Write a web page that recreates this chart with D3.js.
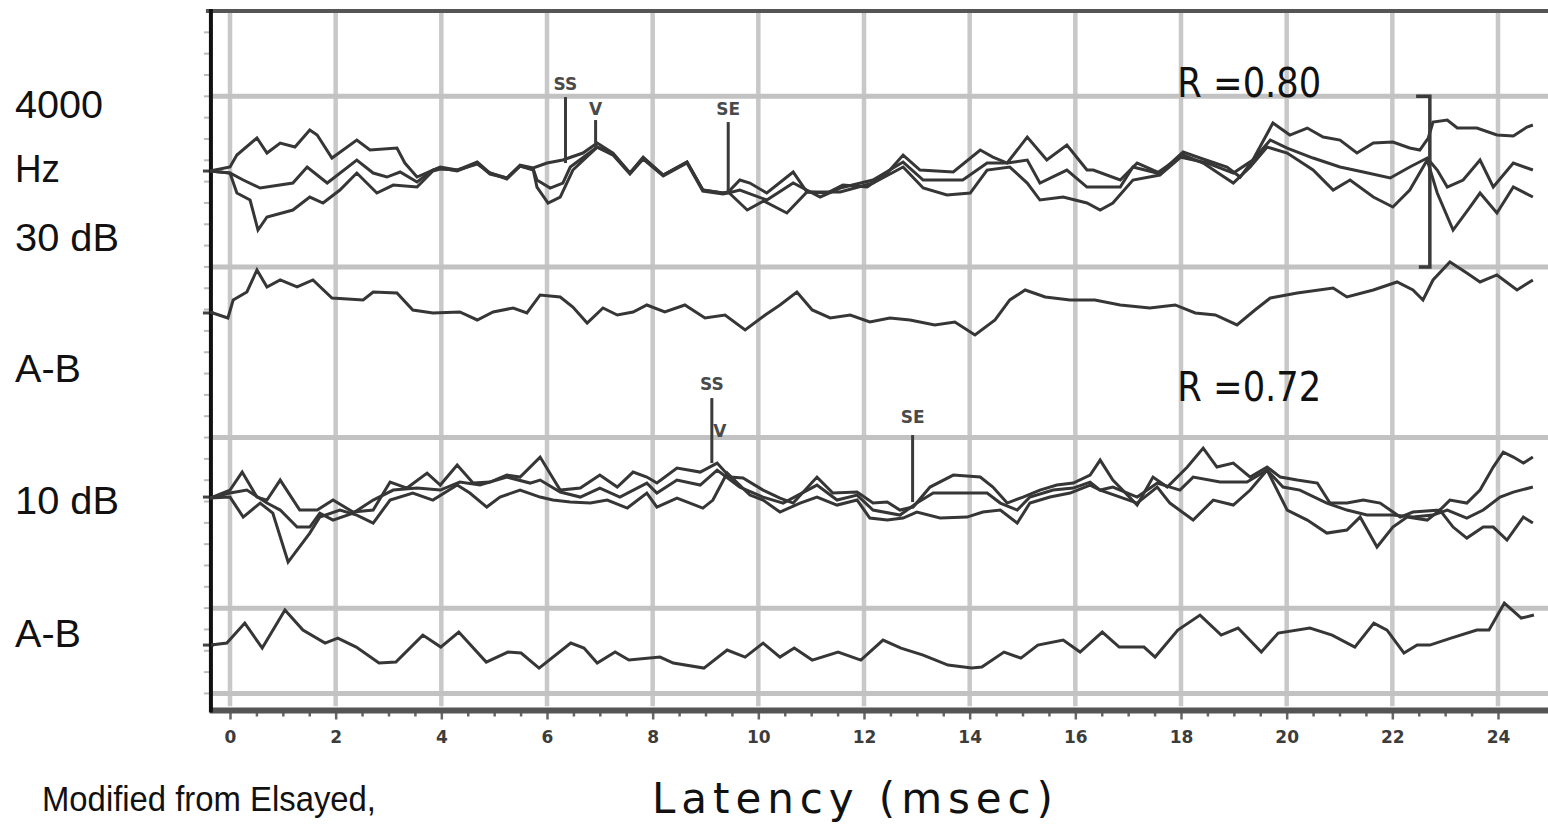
<!DOCTYPE html>
<html><head><meta charset="utf-8">
<script src="https://cdn.jsdelivr.net/npm/d3@7/dist/d3.min.js"></script>
<style>body{margin:0;background:#fff;overflow:hidden}svg{display:block}</style>
</head><body>
<svg id="chart" width="1548" height="830"></svg>
<script>
// ---------------- data ----------------
const xTickValues = [0,2,4,6,8,10,12,14,16,18,20,22,24];
const latencyMinorStep = 0.5;            // ms between minor ticks
const gridRows = [1,3,5,7,8];            // horizontal grid rows (divisions)
const ampGain = 0.1172;                  // divisions per amplitude unit

// channel baselines (divisions from top)
const base30 = 1.876, baseDiff30 = 3.540, base10 = 5.698, baseDiff10 = 7.433;

// [latency ms, amplitude units]
const wave30A = [[-0.38,0],[0,0.4],[0.13,1.6],[0.51,3.3],[0.70,1.8],[0.95,2.8],[1.23,2.4],[1.51,4.1],[1.65,3.6],[1.93,1.3],[2.40,3.1],[2.65,2.1],[3.16,2.3],[3.31,0.8],[3.54,-0.6],[3.84,0.1],[3.98,0.4],[4.30,0.1],[4.68,0.9],[4.92,-0.2],[5.24,-0.7],[5.49,0.6],[5.74,0.3],[6.00,0.8],[6.30,1.1],[6.68,1.8],[6.95,2.8],[7.25,1.8],[7.57,-0.2],[7.82,1.4],[8.20,-0.4],[8.65,0.9],[8.95,-1.9],[9.33,-2.2],[9.43,-2.1],[9.65,-0.9],[9.84,-1.2],[10.16,-2.2],[10.66,-0.1],[10.92,-2.1],[11.30,-2.2],[11.60,-1.4],[12.06,-1.6],[12.44,-0.2],[12.74,1.6],[13.06,0.1],[13.69,-0.1],[14.20,2.1],[14.44,1.4],[14.71,0.8],[15.09,3.4],[15.46,1.1],[15.84,2.6],[16.22,0.1],[16.34,0.1],[16.85,-0.9],[17.17,0.8],[17.60,-0.2],[18.04,1.9],[18.36,1.3],[18.87,0.4],[19.12,-0.6],[19.36,1.1],[19.74,4.8],[20.06,3.6],[20.39,4.3],[20.69,3.4],[21.01,3.1],[21.33,1.8],[21.64,2.8],[22.01,2.9],[22.33,2.3],[22.52,2.1],[22.68,3.3],[22.77,4.9],[23.04,5.1],[23.23,4.3],[23.60,4.3],[23.98,3.6],[24.29,3.5],[24.55,4.4],[24.66,4.6]];
const wave30B = [[-0.38,0],[0,-0.2],[0.25,-0.9],[0.57,-1.7],[1.19,-1.2],[1.46,0.4],[1.84,-1.2],[2.40,1.1],[2.71,-0.2],[2.97,-0.6],[3.22,-0.1],[3.54,-1.1],[3.84,0.1],[3.98,0.3],[4.30,0],[4.68,0.8],[4.92,-0.3],[5.24,-0.7],[5.49,0.5],[5.74,0.2],[5.81,-0.9],[6.06,-1.7],[6.30,-1.2],[6.44,0.4],[6.95,2.4],[7.25,1.6],[7.57,-0.3],[7.82,1.2],[8.20,-0.5],[8.65,0.8],[8.95,-2.0],[9.33,-2.3],[9.43,-2.2],[9.65,-1.9],[10.16,-2.9],[10.66,-1.2],[11.17,-2.6],[11.55,-1.7],[12.17,-0.9],[12.74,0.9],[13.12,-0.9],[13.87,-0.9],[14.33,0.8],[14.71,0.8],[15.09,1.1],[15.33,-1.2],[15.84,0.1],[16.22,-1.6],[16.47,-1.6],[16.85,-1.6],[17.09,0.4],[17.55,-0.2],[17.98,1.4],[18.50,0.8],[18.99,-0.2],[19.36,1.1],[19.69,3.1],[20.01,2.3],[20.50,1.3],[21.01,0.4],[21.45,-0.1],[21.96,-0.7],[22.33,0.4],[22.66,1.3],[22.85,0.1],[23.04,-1.6],[23.34,-0.9],[23.66,1.1],[23.91,-1.6],[24.29,0.8],[24.66,0.1]];
const wave30C = [[-0.38,0],[0,-0.2],[0.13,-2.2],[0.38,-2.9],[0.53,-5.9],[0.70,-4.6],[1.19,-3.9],[1.51,-2.6],[1.76,-3.2],[2.08,-1.9],[2.40,-0.2],[2.78,-2.2],[3.09,-1.4],[3.54,-1.6],[3.84,0],[3.98,0.2],[4.30,0.1],[4.68,0.7],[4.92,-0.2],[5.24,-0.8],[5.49,0.5],[5.74,0.1],[5.81,-1.6],[6.02,-3.2],[6.25,-2.6],[6.49,0.1],[6.95,2.4],[7.25,1.7],[7.57,-0.2],[7.82,1.3],[8.20,-0.4],[8.65,0.9],[8.95,-1.9],[9.33,-2.2],[9.43,-2.1],[9.79,-3.9],[10.10,-3.0],[10.54,-4.2],[10.92,-2.1],[11.55,-2.1],[12.17,-1.2],[12.74,0.4],[13.12,-1.7],[13.57,-2.4],[14.01,-2.2],[14.33,0.1],[14.76,0.4],[15.09,-1.2],[15.33,-2.9],[15.77,-2.6],[16.22,-3.2],[16.47,-3.9],[16.71,-3.2],[17.09,-0.9],[17.60,-0.4],[18.04,1.6],[18.42,0.8],[18.99,-1.2],[19.31,0.4],[19.63,2.4],[20.01,1.8],[20.50,0.1],[20.88,-1.9],[21.20,-0.9],[21.64,-2.6],[22.01,-3.6],[22.33,-1.9],[22.66,1.1],[22.85,-2.2],[23.15,-5.9],[23.47,-3.6],[23.66,-2.2],[23.98,-4.2],[24.29,-1.6],[24.66,-2.6]];
const diff30 = [[-0.38,0.1],[-0.04,-0.5],[0.06,1.3],[0.32,2.1],[0.51,4.3],[0.70,2.6],[0.95,3.3],[1.27,2.6],[1.57,3.3],[1.93,1.5],[2.52,1.3],[2.71,2.1],[3.16,2.0],[3.46,0.3],[3.84,0],[4.35,0.1],[4.68,-0.7],[4.98,0.1],[5.36,0.5],[5.62,0],[5.87,1.8],[6.25,1.6],[6.49,0.6],[6.76,-1.0],[7.06,0.5],[7.33,-0.2],[7.63,0.1],[7.89,0.8],[8.23,0.1],[8.61,0.8],[8.99,-0.5],[9.37,-0.2],[9.75,-1.7],[10.13,-0.2],[10.41,0.8],[10.73,2.1],[11.02,0.3],[11.36,-0.5],[11.74,-0.2],[12.11,-0.9],[12.49,-0.5],[12.87,-0.7],[13.34,-1.2],[13.72,-0.9],[14.10,-2.2],[14.48,-0.7],[14.76,1.3],[15.05,2.3],[15.43,1.6],[15.90,1.3],[16.37,1.3],[16.85,0.8],[17.41,0.5],[17.89,0.8],[18.27,0],[18.65,-0.2],[19.06,-1.2],[19.40,0.3],[19.69,1.5],[20.20,2.0],[20.88,2.5],[21.14,1.6],[21.64,2.3],[22.09,3.1],[22.39,2.3],[22.58,1.3],[22.77,3.3],[23.09,5.1],[23.41,4.0],[23.66,3.1],[23.98,3.8],[24.36,2.3],[24.66,3.3]];

const wave10A = [[-0.38,-0.1],[0,0.7],[0.23,2.5],[0.51,0],[0.70,-0.3],[0.95,1.7],[1.32,-1.3],[1.65,-1.3],[1.95,-0.3],[2.33,-1.5],[2.71,-1.3],[3.03,1.5],[3.35,0.9],[3.73,2.4],[3.98,1.2],[4.30,3.2],[4.60,1.4],[4.92,1.5],[5.24,2.2],[5.49,2.0],[5.87,4.0],[6.11,1.9],[6.25,0.7],[6.63,0.9],[7.00,2.2],[7.33,1.0],[7.63,2.5],[7.89,2.0],[8.08,1.4],[8.46,2.9],[8.90,2.5],[9.22,3.4],[9.46,2.0],[9.71,1.9],[10.09,0.7],[10.41,-0.1],[10.66,-0.6],[11.11,2.0],[11.41,0.4],[11.87,0.5],[12.17,-0.6],[12.44,-0.5],[12.68,-1.3],[12.93,-1.0],[13.25,1.0],[13.69,2.2],[14.20,2.0],[14.44,1.0],[14.71,-0.6],[15.01,0],[15.33,0.7],[15.65,1.2],[15.96,1.4],[16.28,2.2],[16.47,3.7],[16.71,1.7],[17.17,-0.8],[17.47,2.0],[17.74,1.0],[18.12,3.0],[18.42,4.9],[18.68,3.0],[18.99,3.4],[19.31,2.0],[19.63,3.0],[19.88,2.0],[20.20,1.7],[20.58,1.4],[20.82,-0.6],[21.14,-0.6],[21.45,-0.3],[21.77,-0.6],[22.15,-2.0],[22.39,-1.5],[22.90,-1.3],[23.09,-0.3],[23.41,-0.6],[23.66,0.7],[23.91,3.0],[24.10,4.5],[24.29,4.0],[24.48,3.4],[24.66,4.0]];
const wave10B = [[-0.38,-0.1],[0,0.4],[0.32,0.7],[0.70,-0.6],[0.95,-1.3],[1.27,-3.0],[1.51,-3.0],[1.70,-1.6],[1.95,-2.3],[2.33,-1.6],[2.71,-0.3],[3.09,0.7],[3.54,0.9],[3.98,0.7],[4.35,1.5],[4.73,1.2],[5.24,2.0],[5.68,1.4],[5.87,1.7],[6.25,0.5],[6.63,0],[7.00,0.9],[7.38,0],[7.89,1.4],[8.08,0.4],[8.46,1.7],[8.90,1.2],[9.22,2.7],[9.65,1.0],[10.09,0],[10.47,-0.6],[11.11,1.2],[11.49,-0.3],[11.87,0.2],[12.17,-1.3],[12.68,-1.8],[13.00,-0.6],[13.31,0.4],[13.76,0.4],[14.33,0.4],[14.58,-0.6],[14.90,-1.3],[15.14,0],[15.58,0.7],[15.96,0.9],[16.28,1.5],[16.47,0.7],[16.71,1.0],[17.17,0],[17.55,1.4],[17.98,0.7],[18.23,2.0],[18.74,1.5],[19.25,1.5],[19.63,2.7],[19.93,1.0],[20.25,0.7],[20.76,-0.6],[21.14,-1.3],[21.52,-1.8],[22.01,-1.8],[22.39,-2.0],[22.77,-1.8],[23.04,-1.3],[23.41,-2.1],[23.72,-1.3],[24.04,0],[24.29,0.5],[24.66,1.0]];
const wave10C = [[-0.38,-0.1],[0,0],[0.25,-2.0],[0.57,-0.6],[0.81,-1.6],[1.10,-6.5],[1.51,-3.6],[1.70,-2.0],[2.08,-1.3],[2.40,-1.8],[2.71,-2.6],[3.03,-0.3],[3.46,0.4],[3.84,-0.3],[4.30,1.2],[4.54,0.4],[4.86,-1.0],[5.11,0],[5.49,0.7],[5.87,0],[6.11,-0.3],[6.44,-0.5],[6.82,-0.6],[7.14,-0.3],[7.52,-1.1],[7.89,0.4],[8.08,-1.0],[8.46,-0.1],[8.95,-1.1],[9.14,-0.3],[9.41,2.4],[9.84,0.2],[10.09,-0.3],[10.41,-1.5],[10.79,-0.6],[11.11,0],[11.49,-0.8],[11.87,-0.3],[12.11,-2.1],[12.44,-2.3],[12.74,-2.1],[13.00,-1.5],[13.44,-2.1],[13.95,-2.0],[14.25,-1.5],[14.58,-1.3],[14.90,-2.6],[15.14,-0.6],[15.52,0],[15.90,0.4],[16.28,1.2],[16.47,0.7],[16.85,0],[17.17,-0.6],[17.55,1.0],[17.79,-0.6],[18.23,-2.3],[18.61,-0.3],[18.99,-0.8],[19.31,0.7],[19.63,2.7],[20.01,-1.3],[20.39,-2.3],[20.76,-3.6],[21.14,-3.3],[21.39,-2.0],[21.71,-5.0],[22.01,-3.0],[22.28,-2.0],[22.66,-2.3],[22.90,-1.3],[23.15,-3.0],[23.41,-4.1],[23.72,-3.0],[23.91,-3.0],[24.17,-4.3],[24.48,-2.0],[24.66,-2.6]];
const diff10 = [[-0.36,0],[-0.06,0.2],[0.28,2.2],[0.61,-0.3],[1.04,3.5],[1.38,1.5],[1.80,0.2],[2.04,0.7],[2.39,-0.2],[2.82,-1.8],[3.14,-1.7],[3.65,1.0],[3.99,-0.2],[4.33,1.3],[4.85,-1.7],[5.26,-0.7],[5.51,-0.8],[5.85,-2.3],[6.45,0.2],[6.70,-0.3],[6.95,-1.8],[7.29,-0.7],[7.55,-1.5],[8.14,-1.2],[8.39,-1.8],[8.97,-2.3],[9.41,-0.5],[9.75,-1.2],[10.09,0.2],[10.41,-1.2],[10.68,-0.3],[11.02,-1.5],[11.51,-0.7],[11.94,-1.5],[12.36,0.5],[12.70,-0.3],[13.12,-1.0],[13.59,-2.0],[14.04,-2.3],[14.23,-2.2],[14.65,-0.7],[14.97,-1.3],[15.29,0],[15.77,0.5],[16.09,-0.7],[16.51,1.3],[16.83,-0.2],[17.30,-0.2],[17.51,-1.2],[17.94,1.5],[18.36,3.0],[18.76,1.0],[19.08,1.7],[19.52,-0.7],[19.84,1.2],[20.44,1.7],[20.86,1.0],[21.29,-0.2],[21.65,2.2],[21.90,1.5],[22.22,-0.8],[22.47,0],[22.71,0],[23.11,0.7],[23.60,1.5],[23.83,1.5],[24.12,4.2],[24.44,2.7],[24.68,3.0]];

const leftLabels = ["4000", "Hz", "30 dB", "A-B", "10 dB", "A-B"];
const leftLabelRows = [1.25, 2.01, 2.81, 4.35, 5.90, 7.45];   // baseline rows (divisions)
const peakMarkers = [
  {label:"SS", ms:6.35, base:base30, top:7.4, bottom:0.8, labelAmp:8.7},
  {label:"V",  ms:6.92, base:base30, top:5.1, bottom:2.4, labelAmp:6.2},
  {label:"SE", ms:9.43, base:base30, top:4.9, bottom:-2.2, labelAmp:6.2},
  {label:"SS", ms:9.12, base:base10, top:9.9, bottom:3.4, labelAmp:11.3},
  {label:"V",  ms:9.27, base:base10, top:null, bottom:null, labelAmp:6.6},
  {label:"SE", ms:12.92, base:base10, top:6.2, bottom:-0.5, labelAmp:8.0}
];
const corrLabels = [["R =0.80", 17.93, 1.01], ["R =0.72", 17.93, 4.57]];
const bracket = {ms:22.71, from:1.0, to:3.0, serif:0.26};

// ---------------- drawing ----------------
const svg = d3.select("#chart");
const x = d3.scaleLinear().domain([0,24]).range([230,1498]);
const y = d3.scaleLinear().domain([0,8.2]).range([11,710.5]);
const xLeft = -0.38, xRight = 24.95;
const ink = "#363636";

// vertical grid
svg.append("g").selectAll("line").data(xTickValues).join("line")
  .attr("x1", d=>x(d)).attr("x2", d=>x(d))
  .attr("y1", y(0)).attr("y2", y(8.15))
  .attr("stroke", "#c8c8c8").attr("stroke-width", 4.5);
// horizontal grid
svg.append("g").selectAll("line").data(gridRows).join("line")
  .attr("x1", x(xLeft)+2).attr("x2", x(xRight))
  .attr("y1", d=>y(d)).attr("y2", d=>y(d))
  .attr("stroke", "#c2c2c2").attr("stroke-width", 5);

// top border
svg.append("line").attr("x1", x(xLeft)-4).attr("x2", x(xRight))
  .attr("y1", y(0)).attr("y2", y(0)).attr("stroke", "#555").attr("stroke-width", 4);

// bottom axis
const xAxis = d3.axisBottom(x)
  .tickValues(d3.range(0, 24.01, latencyMinorStep))
  .tickSize(6).tickFormat(d => xTickValues.includes(d) ? d : "");
const gx = svg.append("g").attr("transform", `translate(0,${y(8.2)})`).call(xAxis);
gx.select(".domain").remove();
gx.selectAll(".tick line").attr("stroke", "#666").attr("stroke-width", 2.5)
  .attr("y2", d => xTickValues.includes(d) ? 9 : 6);
gx.selectAll(".tick text").attr("y", 20)
  .attr("font-family", "DejaVu Sans, sans-serif").attr("font-weight", "bold")
  .attr("font-size", 17).attr("fill", "#3c3c3c");
svg.append("line").attr("x1", x(xLeft)).attr("x2", x(xRight))
  .attr("y1", y(8.2)).attr("y2", y(8.2)).attr("stroke", "#555").attr("stroke-width", 6);

// left axis with minor ticks
svg.append("g").selectAll("line").data(d3.range(0.25, 8.2, 0.25)).join("line")
  .attr("x1", x(xLeft)-6).attr("x2", x(xLeft))
  .attr("y1", d=>y(d)).attr("y2", d=>y(d))
  .attr("stroke", "#bbb").attr("stroke-width", 2);
svg.append("g").selectAll("line").data([base30, baseDiff30, base10, baseDiff10]).join("line")
  .attr("x1", x(xLeft)-7).attr("x2", x(xLeft)+4)
  .attr("y1", d=>y(d)).attr("y2", d=>y(d))
  .attr("stroke", "#444").attr("stroke-width", 3);
svg.append("line").attr("x1", x(xLeft)+1).attr("x2", x(xLeft)+1)
  .attr("y1", y(0)-2).attr("y2", y(8.2)+2).attr("stroke", "#111").attr("stroke-width", 4);

// traces
const traces = [[wave30A,base30],[wave30B,base30],[wave30C,base30],[diff30,baseDiff30],
                [wave10A,base10],[wave10B,base10],[wave10C,base10],[diff10,baseDiff10]];
svg.append("g").selectAll("path").data(traces).join("path")
  .attr("d", ([pts, b]) => d3.line().x(d=>x(d[0])).y(d=>y(b - d[1]*ampGain))(pts))
  .attr("fill", "none").attr("stroke", ink).attr("stroke-width", 3)
  .attr("stroke-linejoin", "miter").attr("stroke-miterlimit", 3);

// peak markers
const mk = svg.append("g");
peakMarkers.filter(m=>m.top!==null).forEach(m => {
  mk.append("line").attr("x1", x(m.ms)).attr("x2", x(m.ms))
    .attr("y1", y(m.base - m.top*ampGain)).attr("y2", y(m.base - m.bottom*ampGain))
    .attr("stroke", "#3a3a3a").attr("stroke-width", 3);
});
mk.selectAll("text").data(peakMarkers).join("text")
  .attr("x", m => x(m.ms))
  .attr("y", m => y(m.base - m.labelAmp*ampGain))
  .attr("text-anchor", "middle").attr("dominant-baseline", "central")
  .attr("font-family", "DejaVu Sans, sans-serif").attr("font-weight", "bold")
  .attr("font-size", 17).attr("fill", "#4a4a4a")
  .text(m => m.label);

// correlation labels
svg.append("g").selectAll("text").data(corrLabels).join("text")
  .attr("x", d=>x(d[1])).attr("y", d=>y(d[2]))
  .attr("font-family", "DejaVu Sans, sans-serif").attr("font-size", 40)
  .attr("textLength", 144).attr("lengthAdjust", "spacingAndGlyphs")
  .attr("fill", "#111").text(d=>d[0]);

// bracket
svg.append("path")
  .attr("d", `M${x(bracket.ms - bracket.serif)},${y(bracket.from)} H${x(bracket.ms)} V${y(bracket.to)} H${x(bracket.ms - bracket.serif*0.8)}`)
  .attr("fill", "none").attr("stroke", "#3a3a3a").attr("stroke-width", 3.5);

// left labels
const labelWidths = [88, 45, 104, 66, 104, 66];
svg.append("g").selectAll("text").data(leftLabels).join("text")
  .attr("x", 15).attr("y", (d,i)=>y(leftLabelRows[i]))
  .attr("font-family", "Liberation Sans, Arial, sans-serif").attr("font-size", 38)
  .attr("textLength", (d,i)=>labelWidths[i]).attr("lengthAdjust", "spacingAndGlyphs")
  .attr("fill", "#111").text(d=>d);

// footer
svg.append("text").attr("x", 42).attr("y", 811)
  .attr("font-family", "Liberation Sans, Arial, sans-serif").attr("font-size", 35)
  .attr("textLength", 334).attr("lengthAdjust", "spacingAndGlyphs")
  .attr("fill", "#111").text("Modified from Elsayed,");
svg.append("text").attr("x", 652).attr("y", 813)
  .attr("font-family", "DejaVu Sans, sans-serif")
  .attr("font-size", 42).attr("textLength", 401).attr("lengthAdjust", "spacing")
  .attr("fill", "#111").text("Latency (msec)");
</script>
</body></html>
